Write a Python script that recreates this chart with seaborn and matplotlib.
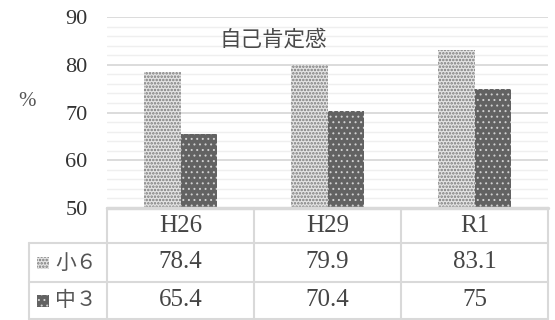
import pandas as pd
import matplotlib
matplotlib.use("Agg")
import matplotlib.pyplot as plt
import matplotlib.transforms as mtransforms
from matplotlib.patches import Rectangle
import seaborn as sns

# Data
years = ["H26", "H29", "R1"]
grades = ["小６", "中３"]
sho6 = [78.4, 79.9, 83.1]
chu3 = [65.4, 70.4, 75]
value_labels = {"小６": ["78.4", "79.9", "83.1"], "中３": ["65.4", "70.4", "75"]}

df = pd.DataFrame({
    "year": years * 2,
    "grade": [grades[0]] * 3 + [grades[1]] * 3,
    "value": sho6 + chu3,
})

sns.set_theme(style="white")
plt.rcParams["font.family"] = ["Liberation Serif", "Noto Sans CJK JP", "DejaVu Sans"]
plt.rcParams["hatch.linewidth"] = 1.2

W, H = 555, 320
fig = plt.figure(figsize=(W / 100, H / 100), dpi=100)
ax = fig.add_axes([107 / W, (H - 208) / H, 441 / W, 191 / H])

styles = {
    "小６": dict(face="#e4e4e4", hatch=".....", edge="#7a7a7a", hlw=1.2),
    "中３": dict(face="#626262", hatch="...", edge="#d0d0d0", hlw=0.7),
}

sns.barplot(data=df, x="year", y="value", hue="grade", order=years,
            hue_order=grades, width=0.5, palette=["#e4e4e4", "#626262"],
            ax=ax, legend=False, saturation=1, zorder=3)


def style_patch(p, st):
    p.set_hatch(st["hatch"])
    p.set_edgecolor(st["edge"])
    p.set_linewidth(0)
    if hasattr(p, "set_hatch_linewidth"):
        p.set_hatch_linewidth(st["hlw"])


# apply hatch patterns per series
for cont, g in zip(ax.containers, grades):
    for bar in cont:
        style_patch(bar, styles[g])

ax.set_ylim(50, 90)
ax.set_xlim(-0.5, 2.5)
ax.set_yticks(range(50, 91, 10))
ax.set_yticks(range(50, 91, 2), minor=True)
ax.grid(axis="y", which="major", color="#d9d9d9", lw=1.3, zorder=0)
ax.grid(axis="y", which="minor", color="#efefef", lw=1.0, zorder=0)
ax.set_axisbelow(True)
for s in ax.spines.values():
    s.set_visible(False)
ax.tick_params(axis="y", which="both", length=0, pad=14, labelsize=16,
               labelcolor="#333333")
ax.tick_params(axis="x", length=0, labelbottom=False)
ax.set_xlabel("")
ax.set_ylabel("")

ax.text(0.378, 0.88, "自己肯定感", transform=ax.transAxes, ha="center",
        va="center", fontsize=15.5, color="#4a4a4a",
        family=["Noto Sans CJK JP", "DejaVu Sans"])
fig.text(27 / W, 1 - 101 / H, "%", ha="center", va="center", fontsize=15,
         color="#555555")

# data table under the plot
line_c = "#d9d9d9"
row_y = [208, 243, 282, 319]
trans = mtransforms.blended_transform_factory(ax.transData, fig.transFigure)
fy = lambda py: 1 - py / H

for i in range(4):
    x0 = 29 / W if i > 0 else 107 / W
    fig.add_artist(plt.Line2D([x0, 548 / W], [fy(row_y[i])] * 2,
                              color=line_c, lw=1.5 if i else 2.5))
for xb in [-0.5, 0.5, 1.5, 2.5]:
    ax.plot([xb, xb], [fy(208), fy(319)], color=line_c, lw=1.5,
            transform=trans, clip_on=False)
fig.add_artist(plt.Line2D([29 / W] * 2, [fy(243), fy(319)], color=line_c, lw=1.5))

for j, yr in enumerate(years):
    ax.text(j, fy(226), yr, transform=trans, ha="center", va="center",
            fontsize=18, color="#454545")
for r, g in enumerate(grades):
    yc = fy((row_y[r + 1] + row_y[r + 2]) / 2)
    for j in range(len(years)):
        ax.text(j, yc, value_labels[g][j], transform=trans, ha="center",
                va="center", fontsize=18, color="#454545")
    legend_box = Rectangle((37 / W, yc - 6 / H), 12 / W, 12 / H,
                           facecolor=styles[g]["face"])
    style_patch(legend_box, styles[g])
    fig.add_artist(legend_box)
    fig.text(55 / W, yc, g, ha="left", va="center", fontsize=15,
             color="#555555", family=["Noto Sans CJK JP", "DejaVu Sans"])

fig.savefig("out.png", dpi=100)
